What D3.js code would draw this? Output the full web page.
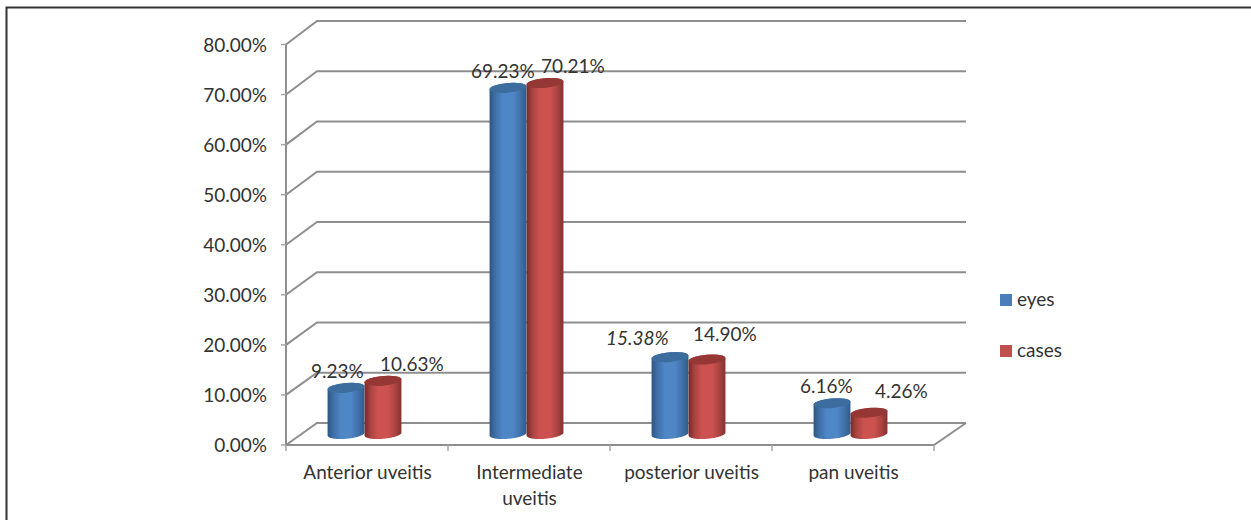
<!DOCTYPE html>
<html>
<head>
<meta charset="utf-8">
<script src="https://cdn.jsdelivr.net/npm/d3@7/dist/d3.min.js"></script>
<style>
html,body{margin:0;padding:0;background:#fff}
svg{display:block}
text{font-family:Lato,"Open Sans",sans-serif;font-size:19px;fill:#333}
</style>
</head>
<body>
<svg id="chart" width="1251" height="520"></svg>
<script>
const categories = [["Anterior uveitis"], ["Intermediate", "uveitis"], ["posterior uveitis"], ["pan uveitis"]];
const seriesNames = ["eyes", "cases"];
const eyes = [9.23, 69.23, 15.38, 6.16];
const cases = [10.63, 70.21, 14.90, 4.26];
const yTicks = [0, 10, 20, 30, 40, 50, 60, 70, 80];
const seriesColors = {
  eyes: { edge: "#2c5783", shade: "#3f70a8", mid: "#4f86c6", far: "#315c88", top: "#3c6d9e", key: "#4a7ebb" },
  cases: { edge: "#77292a", shade: "#a84341", mid: "#cc5250", far: "#843130", top: "#953735", key: "#c0504d" }
};

const svg = d3.select("#chart");

// Frame
svg.append("path").attr("d", "M6.5,520V7.5H1251").attr("fill", "none").attr("stroke", "#333").attr("stroke-width", 2);

// Front plane of the axis box and its receding back wall
const yFront = d3.scaleLinear().domain([0, 80]).range([445, 44.5]);
const yBack = d3.scaleLinear().domain([0, 80]).range([423, 21]);
const xFront = d3.scaleBand().domain(categories.map(c => c[0])).range([286, 934]);
const depthX = 31;
const gridColor = "#8e8e8e";

const grid = svg.append("g").attr("fill", "none").attr("stroke", gridColor).attr("stroke-width", 2);
yTicks.forEach(t => {
  grid.append("path").attr("d", d3.line()([[286, yFront(t)], [286 + depthX, yBack(t)], [966, yBack(t)]]));
});
// Floor edges
grid.append("path").attr("d", d3.line()([[286, yFront(0)], [934, yFront(0)], [966, yBack(0)]]));
// Vertical value axis
grid.append("line").attr("x1", 286).attr("x2", 286).attr("y1", yFront(80)).attr("y2", yFront(0) + 1);

// Tick marks on both axes
const ticks = svg.append("g").attr("stroke", "#a6a6a6").attr("stroke-width", 1.5);
yTicks.forEach(t => {
  ticks.append("line").attr("x1", 281).attr("x2", 286).attr("y1", yFront(t)).attr("y2", yFront(t));
});
d3.range(categories.length + 1).forEach(i => {
  const x = 286 + i * xFront.step();
  ticks.append("line").attr("x1", x).attr("x2", x).attr("y1", 445).attr("y2", 451);
});

// Value axis labels
svg.append("g").selectAll("text").data(yTicks).join("text")
  .attr("x", 267).attr("y", d => yFront(d) + 7).attr("text-anchor", "end")
  .text(d => d3.format(".2f")(d) + "%");

// Category labels
const catG = svg.append("g");
categories.forEach(lines => {
  lines.forEach((line, j) => {
    catG.append("text")
      .attr("x", xFront(lines[0]) + xFront.bandwidth() / 2 + 0.5)
      .attr("y", 479 + j * 26)
      .attr("text-anchor", "middle")
      .text(line);
  });
});

// Cylinder gradients
const defs = svg.append("defs");
seriesNames.forEach(name => {
  const c = seriesColors[name];
  const g = defs.append("linearGradient").attr("id", "grad-" + name).attr("x1", 0).attr("x2", 1).attr("y1", 0).attr("y2", 0);
  [[0, c.edge], [0.16, c.shade], [0.36, c.mid], [0.64, c.mid], [0.84, c.shade], [1, c.far]].forEach(([o, col]) => {
    g.append("stop").attr("offset", o).attr("stop-color", col);
  });
});

// Cylinders: bar height comes from the value scale on the floor mid-depth
const yBar = d3.scaleLinear().domain([0, 80]).range([434, 34]);
const barWidth = 37;
const rx = barWidth / 2, ry = 4.8, tilt = -5 * Math.PI / 180;

// Point on a tilted ellipse centred on (cx, cy)
const ellipsePoint = (cx, cy, a) => [
  cx + rx * Math.cos(a) * Math.cos(tilt) - ry * Math.sin(a) * Math.sin(tilt),
  cy + rx * Math.cos(a) * Math.sin(tilt) + ry * Math.sin(a) * Math.cos(tilt)
];
const outlineAngles = d3.range(0, 61).map(i => i * Math.PI / 60);
const line = d3.line();

function drawCylinder(cx, value, name) {
  const yTop = yBar(value), yBase = yBar(0);
  const g = svg.append("g");
  // Body: upper half of the far rim joined to the lower half of the base
  const body = [
    ...outlineAngles.map(a => ellipsePoint(cx, yBase, a)),
    ...outlineAngles.map(a => ellipsePoint(cx, yTop, Math.PI + a))
  ];
  g.append("path").attr("d", line(body) + "Z").attr("fill", `url(#grad-${name})`);
  g.append("ellipse")
    .attr("cx", cx).attr("cy", yTop).attr("rx", rx).attr("ry", ry)
    .attr("transform", `rotate(-5 ${cx} ${yTop})`)
    .attr("fill", seriesColors[name].top);
}

const groupCenters = categories.map(c => xFront(c[0]) + xFront.bandwidth() / 2 - 3);
categories.forEach((c, i) => {
  drawCylinder(groupCenters[i] - barWidth / 2 + 0.5, eyes[i], "eyes");
  drawCylinder(groupCenters[i] + barWidth / 2 + 0.5, cases[i], "cases");
});

// Value labels sit just above the cylinders; offsets keep them clear of each other
const eyeLabelDx = [-53, -55, -82, -50];
const eyeLabelDy = [-10, -10, -12, -10];
const caseLabelDx = [16, 15, 5, 25];
const caseLabelDy = [-10, -10, -19, -15];
const eyeLabelStyle = ["normal", "normal", "italic", "normal"];
const fmt = v => d3.format(".2f")(v) + "%";
categories.forEach((c, i) => {
  svg.append("text").attr("x", groupCenters[i] + eyeLabelDx[i]).attr("y", yBar(eyes[i]) + eyeLabelDy[i])
    .style("font-style", eyeLabelStyle[i]).text(fmt(eyes[i]));
  svg.append("text").attr("x", groupCenters[i] + caseLabelDx[i]).attr("y", yBar(cases[i]) + caseLabelDy[i]).text(fmt(cases[i]));
});

// Legend
const legendY = d3.scalePoint().domain(seriesNames).range([300, 351]);
seriesNames.forEach(name => {
  svg.append("rect").attr("x", 1000).attr("y", legendY(name) - 6).attr("width", 12).attr("height", 12).attr("fill", seriesColors[name].key);
  svg.append("text").attr("x", 1017).attr("y", legendY(name) + 6).text(name);
});
</script>
</body>
</html>
